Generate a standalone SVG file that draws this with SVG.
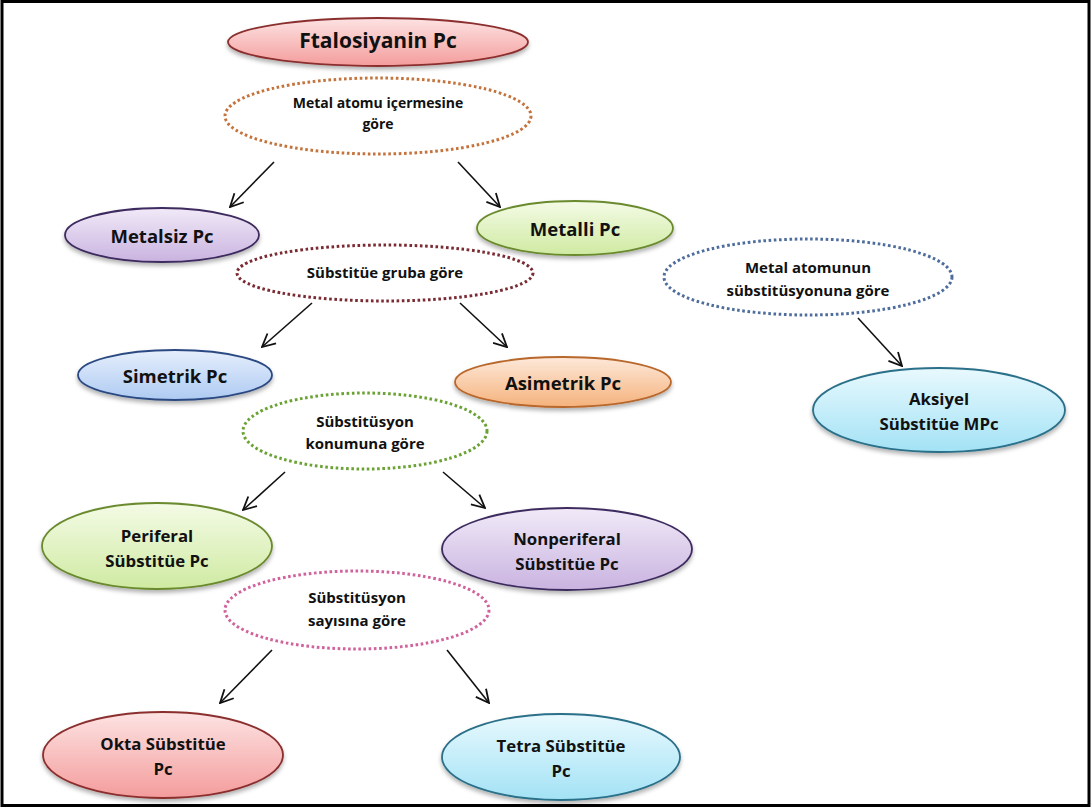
<svg xmlns="http://www.w3.org/2000/svg" width="1092" height="812" viewBox="0 0 1092 812">
<style>
.t{font-family:"Open Sans",Lato,"Liberation Sans",sans-serif;font-weight:bold;fill:#111;text-anchor:middle;dominant-baseline:central}
.big{font-size:21px}
.n1{font-size:18.5px}
.nd{font-size:16.8px}
.sm{font-size:15px}
.sm2{font-size:14px}
.node{stroke-width:1.8;filter:url(#sh)}
.dot{fill:none;stroke-width:3;stroke-dasharray:2.6 2.6}
.arr{stroke:#111;stroke-width:1.6;fill:none;marker-end:url(#ah)}
</style>
<defs>
<filter id="sh" x="-10%" y="-20%" width="120%" height="150%"><feDropShadow dx="0" dy="3" stdDeviation="2" flood-color="#000" flood-opacity="0.3"/></filter>
<marker id="ah" markerUnits="userSpaceOnUse" markerWidth="16" markerHeight="16" viewBox="0 0 16 16" refX="15" refY="8" orient="auto"><path d="M2,1.5 L15,8 L2,14.5" fill="none" stroke="#111" stroke-width="1.8"/></marker>
<linearGradient id="gRed" x1="0" y1="0" x2="0" y2="1"><stop offset="0" stop-color="#fde3e3"/><stop offset="1" stop-color="#f49c9c"/></linearGradient>
<linearGradient id="gPur" x1="0" y1="0" x2="0" y2="1"><stop offset="0" stop-color="#f1eaf8"/><stop offset="1" stop-color="#c9b3e0"/></linearGradient>
<linearGradient id="gGrn" x1="0" y1="0" x2="0" y2="1"><stop offset="0" stop-color="#f4fbe6"/><stop offset="1" stop-color="#cfeaa2"/></linearGradient>
<linearGradient id="gBlu" x1="0" y1="0" x2="0" y2="1"><stop offset="0" stop-color="#e6effc"/><stop offset="1" stop-color="#aecaf2"/></linearGradient>
<linearGradient id="gOrg" x1="0" y1="0" x2="0" y2="1"><stop offset="0" stop-color="#fde9da"/><stop offset="1" stop-color="#f5b27c"/></linearGradient>
<linearGradient id="gCya" x1="0" y1="0" x2="0" y2="1"><stop offset="0" stop-color="#e8f9fe"/><stop offset="1" stop-color="#a3e2f5"/></linearGradient>
</defs>
<rect x="2" y="1.5" width="1087" height="804" fill="#fff" stroke="#000" stroke-width="3"/>

<g id="connectors">
<line class="arr" x1="274" y1="162" x2="230" y2="207"/>
<line class="arr" x1="458" y1="162" x2="500" y2="207"/>
<line class="arr" x1="312" y1="303" x2="262" y2="347"/>
<line class="arr" x1="460" y1="303" x2="507" y2="347"/>
<line class="arr" x1="858" y1="318" x2="902" y2="366"/>
<line class="arr" x1="285" y1="472" x2="243" y2="510"/>
<line class="arr" x1="443" y1="472" x2="485" y2="508"/>
<line class="arr" x1="272" y1="650" x2="220" y2="703"/>
<line class="arr" x1="447" y1="650" x2="489" y2="703"/>
</g>

<g id="ftalosiyanin">
<ellipse class="node" cx="378" cy="42" rx="150" ry="24" fill="url(#gRed)" stroke="#8b2f2f"/>
<text class="t big" x="378" y="40">Ftalosiyanin Pc</text>
</g>
<g id="metal-icerme">
<ellipse class="dot" cx="378" cy="116" rx="153" ry="38" stroke="#c4733c"/>
<text class="t sm2" x="378" y="102">Metal atomu içermesine</text>
<text class="t sm2" x="378" y="123">göre</text>
</g>
<g id="metalsiz">
<ellipse class="node" cx="162" cy="235" rx="97" ry="27" fill="url(#gPur)" stroke="#3d2b5e"/>
<text class="t n1" x="162" y="235">Metalsiz Pc</text>
</g>
<g id="metalli">
<ellipse class="node" cx="575" cy="228" rx="98" ry="27" fill="url(#gGrn)" stroke="#6b8a2e"/>
<text class="t n1" x="575" y="228">Metalli Pc</text>
</g>
<g id="substitue-grup">
<ellipse class="dot" cx="385" cy="273" rx="148" ry="28" stroke="#7a2a32"/>
<text class="t sm" x="385" y="272">Sübstitüe gruba göre</text>
</g>
<g id="metal-substitusyon">
<ellipse class="dot" cx="808" cy="277" rx="144" ry="38" stroke="#4e6d9c"/>
<text class="t sm" x="808" y="267">Metal atomunun</text>
<text class="t sm" x="808" y="290">sübstitüsyonuna göre</text>
</g>
<g id="simetrik">
<ellipse class="node" cx="175" cy="375" rx="97" ry="25" fill="url(#gBlu)" stroke="#2c4a82"/>
<text class="t n1" x="175" y="375">Simetrik Pc</text>
</g>
<g id="asimetrik">
<ellipse class="node" cx="563" cy="382" rx="108" ry="25" fill="url(#gOrg)" stroke="#b8672c"/>
<text class="t n1" x="563" y="382">Asimetrik Pc</text>
</g>
<g id="aksiyel">
<ellipse class="node" cx="939" cy="410" rx="126" ry="42" fill="url(#gCya)" stroke="#2b6f88"/>
<text class="t nd" x="939" y="398">Aksiyel</text>
<text class="t nd" x="939" y="423">Sübstitüe MPc</text>
</g>
<g id="konum">
<ellipse class="dot" cx="365" cy="431" rx="122" ry="38" stroke="#6aa233"/>
<text class="t sm" x="365" y="421">Sübstitüsyon</text>
<text class="t sm" x="365" y="443">konumuna göre</text>
</g>
<g id="periferal">
<ellipse class="node" cx="157" cy="546" rx="115" ry="43" fill="url(#gGrn)" stroke="#6b8a2e"/>
<text class="t nd" x="157" y="535">Periferal</text>
<text class="t nd" x="157" y="560">Sübstitüe Pc</text>
</g>
<g id="nonperiferal">
<ellipse class="node" cx="567" cy="549" rx="125" ry="41" fill="url(#gPur)" stroke="#3d2b5e"/>
<text class="t nd" x="567" y="538">Nonperiferal</text>
<text class="t nd" x="567" y="563">Sübstitüe Pc</text>
</g>
<g id="sayi">
<ellipse class="dot" cx="357" cy="610" rx="132" ry="39" stroke="#d0629c"/>
<text class="t sm" x="357" y="597">Sübstitüsyon</text>
<text class="t sm" x="357" y="620">sayısına göre</text>
</g>
<g id="okta">
<ellipse class="node" cx="163" cy="755" rx="120" ry="43" fill="url(#gRed)" stroke="#8b2f2f"/>
<text class="t nd" x="163" y="743">Okta Sübstitüe</text>
<text class="t nd" x="163" y="768">Pc</text>
</g>
<g id="tetra">
<ellipse class="node" cx="561" cy="757" rx="119" ry="43" fill="url(#gCya)" stroke="#2b6f88"/>
<text class="t nd" x="561" y="745">Tetra Sübstitüe</text>
<text class="t nd" x="561" y="770">Pc</text>
</g>
</svg>
